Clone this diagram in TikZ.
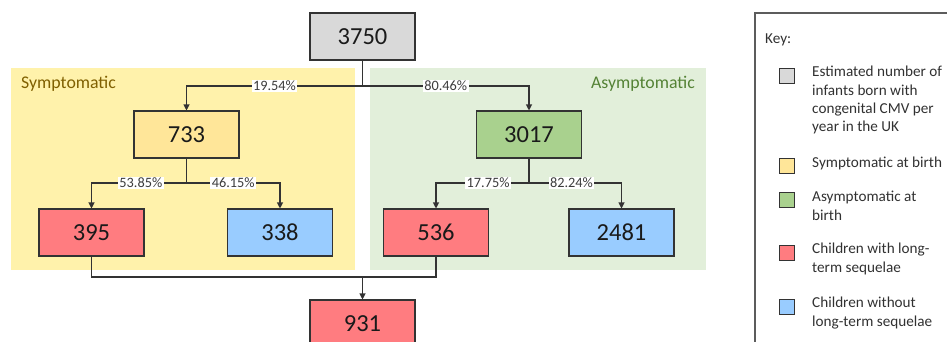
\documentclass[tikz,border=0pt]{standalone}
\usepackage{fontspec}
\setmainfont{Carlito}
\usetikzlibrary{arrows.meta}
\definecolor{boxgray}{HTML}{D9D9D9}
\definecolor{boxyellow}{HTML}{FFE699}
\definecolor{boxgreen}{HTML}{A9D18E}
\definecolor{boxred}{HTML}{FF7C80}
\definecolor{boxblue}{HTML}{99CCFF}
\definecolor{regyellow}{HTML}{FFF2AB}
\definecolor{reggreen}{HTML}{E2EFDA}
\definecolor{symtext}{HTML}{806000}
\definecolor{asymtext}{HTML}{548235}
\definecolor{linecol}{HTML}{333333}
\definecolor{txt}{HTML}{1A1A1A}
\tikzset{
  numbox/.style={draw=linecol, line width=1.1pt, minimum width=105pt, minimum height=47pt, inner sep=0pt, font=\fontsize{24.5}{27}\selectfont, text=txt},
  conn/.style={draw=linecol, line width=1.1pt},
  arr/.style={conn, -{Triangle[width=6pt,length=6pt]}},
  pct/.style={fill=white, inner sep=1.5pt, font=\fontsize{14.3}{16}\selectfont, text=txt!85},
  regtitle/.style={font=\fontsize{17.8}{20}\selectfont, inner sep=0pt},
  legsq/.style={draw=linecol, line width=1pt, minimum width=15pt, minimum height=15pt, inner sep=0pt},
  legtxt/.style={font=\fontsize{15.2}{18.3}\selectfont, text=txt!90, align=left, anchor=north west, inner sep=0pt}
}
\begin{document}
\begin{tikzpicture}[x=1pt,y=-1pt]
\useasboundingbox (0,0) rectangle (947,341);
\clip (0,0) rectangle (947,341);
% regions
\fill[regyellow] (11,68) rectangle (355,270);
\fill[reggreen] (370,68) rectangle (706,270);
\node[regtitle, text=symtext, anchor=west] (tsym) at (21,84) {Symptomatic};
\node[regtitle, text=asymtext, anchor=east] (tasym) at (695,84) {Asymptomatic};
% boxes
\node[numbox, fill=boxgray] (n3750) at (362.5,36.5) {3750};
\node[numbox, fill=boxyellow] (n733) at (186.5,134.5) {733};
\node[numbox, fill=boxgreen] (n3017) at (529,134.5) {3017};
\node[numbox, fill=boxred] (n395) at (91.5,232.5) {395};
\node[numbox, fill=boxblue] (n338) at (280,232.5) {338};
\node[numbox, fill=boxred] (n536) at (436,232.5) {536};
\node[numbox, fill=boxblue] (n2481) at (621.5,232.5) {2481};
\node[numbox, fill=boxred] (n931) at (362.5,323.5) {931};
% split points
\coordinate (s1) at (362.5,86);
\coordinate (s2) at (186.5,183);
\coordinate (s3) at (529,183);
\coordinate (j1) at (362.5,277);
% connectors
\draw[conn] (n3750.south) -- (s1);
\draw[arr] (s1) -| (n733.north) node[pct, pos=0.25] {19.54\%};
\draw[arr] (s1) -| (n3017.north) node[pct, pos=0.25] {80.46\%};
\draw[conn] (n733.south) -- (s2);
\draw[arr] (s2) -| (n395.north) node[pct, pos=0.24] {53.85\%};
\draw[arr] (s2) -| (n338.north) node[pct, pos=0.25] {46.15\%};
\draw[conn] (n3017.south) -- (s3);
\draw[arr] (s3) -| (n536.north) node[pct, pos=0.22] {17.75\%};
\draw[arr] (s3) -| (n2481.north) node[pct, pos=0.23] {82.24\%};
\draw[conn] (n395.south) |- (j1);
\draw[conn] (n536.south) |- (j1);
\draw[arr] (j1) -- (n931.north);
% key
\draw[draw=linecol!80, line width=1.1pt] (755,13) rectangle (1000,400);
\node[legtxt, anchor=west] (key) at (765,40) {Key:};
\node[legsq, fill=boxgray] (k1) at (786.5,75.5) {};
\node[legsq, fill=boxyellow] (k2) at (786.5,165.5) {};
\node[legsq, fill=boxgreen] (k3) at (786.5,200) {};
\node[legsq, fill=boxred] (k4) at (786.5,252.5) {};
\node[legsq, fill=boxblue] (k5) at (786.5,306.5) {};
\node[legtxt] (t1) at (812,66) {Estimated number of\\infants born with\\congenital CMV per\\year in the UK};
\node[legtxt] (t2) at (812,157) {Symptomatic at birth};
\node[legtxt] (t3) at (812,191) {Asymptomatic at\\birth};
\node[legtxt] (t4) at (812,243) {Children with long-\\term sequelae};
\node[legtxt] (t5) at (812,297) {Children without\\long-term sequelae};
\end{tikzpicture}
\end{document}
